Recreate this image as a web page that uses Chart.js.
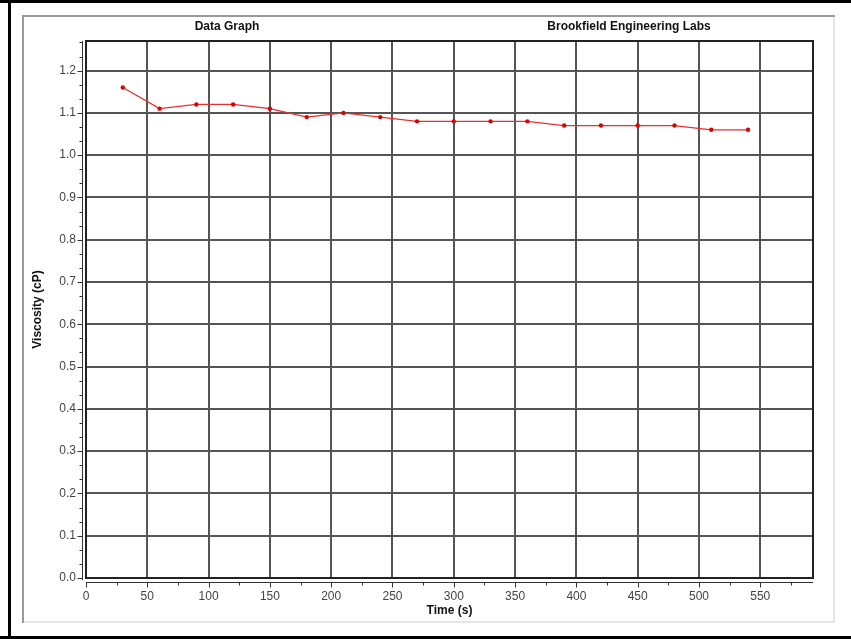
<!DOCTYPE html>
<html>
<head>
<meta charset="utf-8">
<script src="https://cdn.jsdelivr.net/npm/chart.js@4.4.1/dist/chart.umd.min.js"></script>
<style>
  html, body { margin: 0; padding: 0; background: #fff; }
  #wrap { width: 851px; height: 639px; }
</style>
</head>
<body>
<div id="wrap"><canvas id="viscChart" width="851" height="639"></canvas></div>
<script>
// readings every 30 s
const timeSeconds = [30, 60, 90, 120, 150, 180, 210, 240, 270, 300, 330, 360, 390, 420, 450, 480, 510, 540];
const viscosity = [1.16, 1.11, 1.12, 1.12, 1.11, 1.09, 1.10, 1.09, 1.08, 1.08, 1.08, 1.08, 1.07, 1.07, 1.07, 1.07, 1.06, 1.06];

const xMax = 593;
const xStep = 50;
const yMax = 1.27;
const yStep = 0.1;
const headerLeft = 'Data Graph';
const headerRight = 'Brookfield Engineering Labs';

const framePlugin = {
    id: 'frame',
    beforeDraw(chart) {
        const ctx = chart.ctx;
        ctx.save();
        ctx.fillStyle = '#fff';
        ctx.fillRect(0, 0, chart.width, chart.height);
        // outer black frame
        ctx.fillStyle = '#000';
        ctx.fillRect(0, 0, chart.width, 3);
        ctx.fillRect(8, 0, 3, chart.height);
        ctx.fillRect(0, chart.height - 3, chart.width, 3);
        // inner panel
        ctx.fillStyle = '#e6e6e6';
        ctx.fillRect(833, 15, 2, 608);
        ctx.fillRect(23, 621, 812, 2);
        ctx.fillStyle = '#9a9a9a';
        ctx.fillRect(23, 15, 812, 2);
        ctx.fillRect(22, 15, 2, 608);
        ctx.restore();
    },
    afterDraw(chart) {
        const ctx = chart.ctx;
        const a = chart.chartArea;
        const xs = chart.scales.x;
        const ys = chart.scales.y;
        ctx.save();
        ctx.strokeStyle = '#222';
        ctx.lineWidth = 2;
        ctx.strokeRect(Math.round(a.left), Math.round(a.top),
            Math.round(a.right - a.left), Math.round(a.bottom - a.top));

        ctx.strokeStyle = '#333';
        ctx.lineWidth = 1;
        // y axis, set off from the plot
        const yx = Math.round(a.left) - 3.5;
        ctx.beginPath();
        ctx.moveTo(yx, a.top);
        ctx.lineTo(yx, a.bottom + 2);
        for (let i = 0; i * yStep / 3 <= yMax + 1e-9; i++) {
            const p = Math.round(ys.getPixelForValue(i * yStep / 3)) + 0.5;
            const len = i % 3 === 0 ? 5 : 3;
            ctx.moveTo(yx - len, p);
            ctx.lineTo(yx, p);
        }
        ctx.stroke();

        // x axis below the plot
        const xy = Math.round(a.bottom) + 4.5;
        ctx.beginPath();
        ctx.moveTo(a.left, xy);
        ctx.lineTo(a.right, xy);
        for (let i = 0; i * xStep / 2 <= xMax; i++) {
            const p = Math.round(xs.getPixelForValue(i * xStep / 2)) + 0.5;
            const len = i % 2 === 0 ? 5 : 3;
            ctx.moveTo(p, xy);
            ctx.lineTo(p, xy + len);
        }
        ctx.stroke();

        // header texts
        ctx.fillStyle = '#111';
        ctx.font = 'bold 12px "Liberation Sans Narrow", "Liberation Sans", Arial, sans-serif';
        ctx.textAlign = 'center';
        ctx.textBaseline = 'middle';
        ctx.fillText(headerLeft, 227, 27);
        ctx.fillText(headerRight, 629, 27);
        ctx.restore();
    }
};

const ctx = document.getElementById('viscChart').getContext('2d');

const chart = new Chart(ctx, {
    type: 'line',
    data: {
        datasets: [{
            label: 'Viscosity',
            data: timeSeconds.map((t, i) => ({ x: t, y: viscosity[i] })),
            borderColor: '#e53030',
            backgroundColor: '#dd0000',
            borderWidth: 1.3,
            pointRadius: 2.2,
            pointBorderWidth: 0,
            pointBackgroundColor: '#dd0000',
            tension: 0
        }]
    },
    options: {
        responsive: false,
        animation: false,
        layout: {
            padding: { top: 41, right: 38, bottom: 17, left: 24 }
        },
        plugins: {
            legend: { display: false },
            tooltip: { enabled: false }
        },
        scales: {
            x: {
                type: 'linear',
                min: 0,
                max: xMax,
                afterFit: (scale) => { scale.height = 44; },
                ticks: {
                    stepSize: xStep,
                    includeBounds: false,
                    padding: 11,
                    color: '#444',
                    font: { family: '"Liberation Sans", Arial, sans-serif', size: 12 }
                },
                grid: {
                    color: '#555',
                    lineWidth: 2,
                    drawTicks: false
                },
                border: { display: false },
                title: {
                    display: true,
                    text: 'Time (s)',
                    color: '#111',
                    font: { family: '"Liberation Sans Narrow", "Liberation Sans", Arial, sans-serif', size: 12, weight: 'bold' },
                    padding: { top: 0, bottom: 4 }
                }
            },
            y: {
                type: 'linear',
                min: 0,
                max: yMax,
                afterFit: (scale) => { scale.width = 62; },
                ticks: {
                    stepSize: yStep,
                    includeBounds: false,
                    padding: 10,
                    color: '#444',
                    font: { family: '"Liberation Sans", Arial, sans-serif', size: 12 },
                    callback: (v) => v.toFixed(1)
                },
                grid: {
                    color: '#555',
                    lineWidth: 2,
                    drawTicks: false
                },
                border: { display: false },
                title: {
                    display: true,
                    text: 'Viscosity (cP)',
                    color: '#111',
                    font: { family: '"Liberation Sans Narrow", "Liberation Sans", Arial, sans-serif', size: 12, weight: 'bold' },
                    padding: { top: 6, bottom: 0 }
                }
            }
        }
    },
    plugins: [framePlugin]
});
</script>
</body>
</html>
